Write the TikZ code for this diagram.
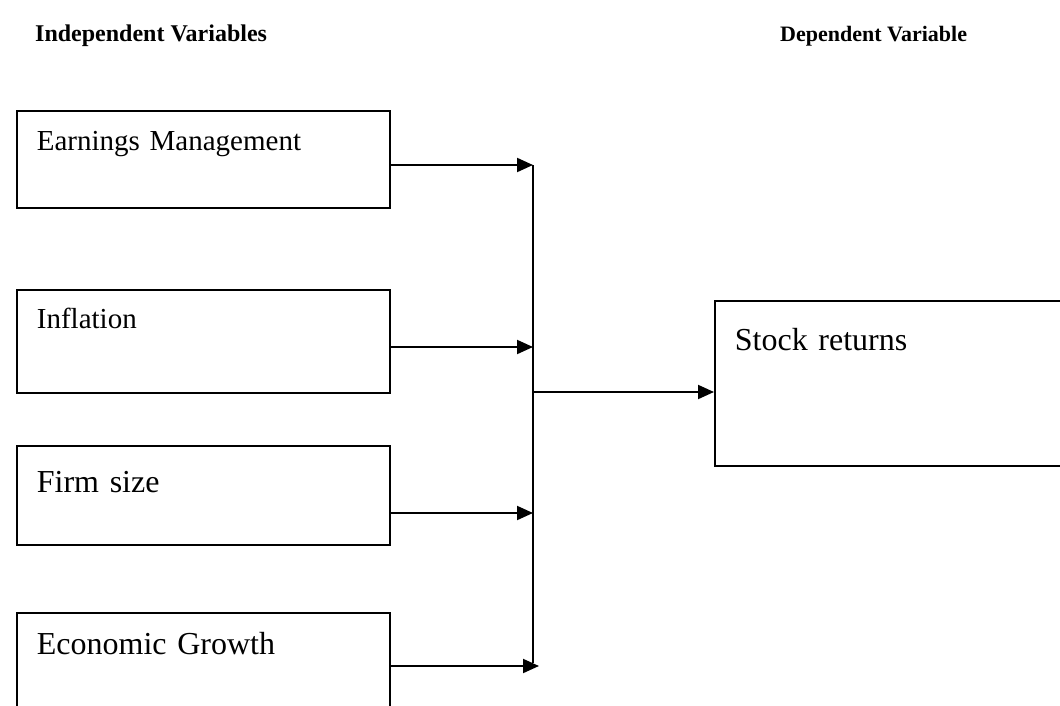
\documentclass[tikz,border=0pt]{standalone}
\usepackage{fontspec}
\setmainfont{Liberation Serif}
\usetikzlibrary{arrows.meta}

\begin{document}
\begin{tikzpicture}[x=1pt,y=-1pt,
  varbox/.style={draw,line width=1.8pt,anchor=north west,inner xsep=20pt,inner ysep=0pt,
    text width=333pt,align=left,font=\fontsize{29}{34}\selectfont,text height=40pt},
  bigtext/.style={font=\fontsize{32}{38}\selectfont},
  head/.style={anchor=base west,inner sep=0pt,font=\bfseries\fontsize{24}{28}\selectfont},
  flow/.style={line width=2pt,-{Triangle[length=16pt,width=14pt]}}]
  \useasboundingbox (0,0) rectangle (1060,706);
  \node[head] (indep) at (35,42) {Independent Variables};
  \node[head,font=\bfseries\fontsize{22}{26}\selectfont] (dep) at (780,42) {Dependent Variable};
  \node[varbox,text depth=57pt] (em) at (16,110) {Earnings Management};
  \node[varbox,text height=39pt,text depth=64pt] (inf) at (16,289) {Inflation};
  \node[varbox,bigtext,text height=47pt,text depth=52pt] (fs) at (16,445) {Firm size};
  \node[varbox,bigtext,text height=42pt,text depth=80pt] (eg) at (16,612) {Economic Growth};
  \node[varbox,bigtext,text width=360pt,text height=50pt,text depth=115pt] (sr) at (714,300) {Stock returns};
  \coordinate (j1) at (533,165);
  \coordinate (j2) at (533,347);
  \coordinate (j3) at (533,513);
  \coordinate (j4) at (539,666);
  \coordinate (jb) at (533,663);
  \coordinate (jm) at (533,392);
  \draw[line width=2pt] (j1) -- (jb);
  \draw[flow] (em.east |- j1) -- (j1);
  \draw[flow] (inf.east |- j2) -- (j2);
  \draw[flow] (fs.east |- j3) -- (j3);
  \draw[flow] (eg.east |- j4) -- (j4);
  \draw[flow] (jm) -- (sr.west |- jm);
\end{tikzpicture}
\end{document}
